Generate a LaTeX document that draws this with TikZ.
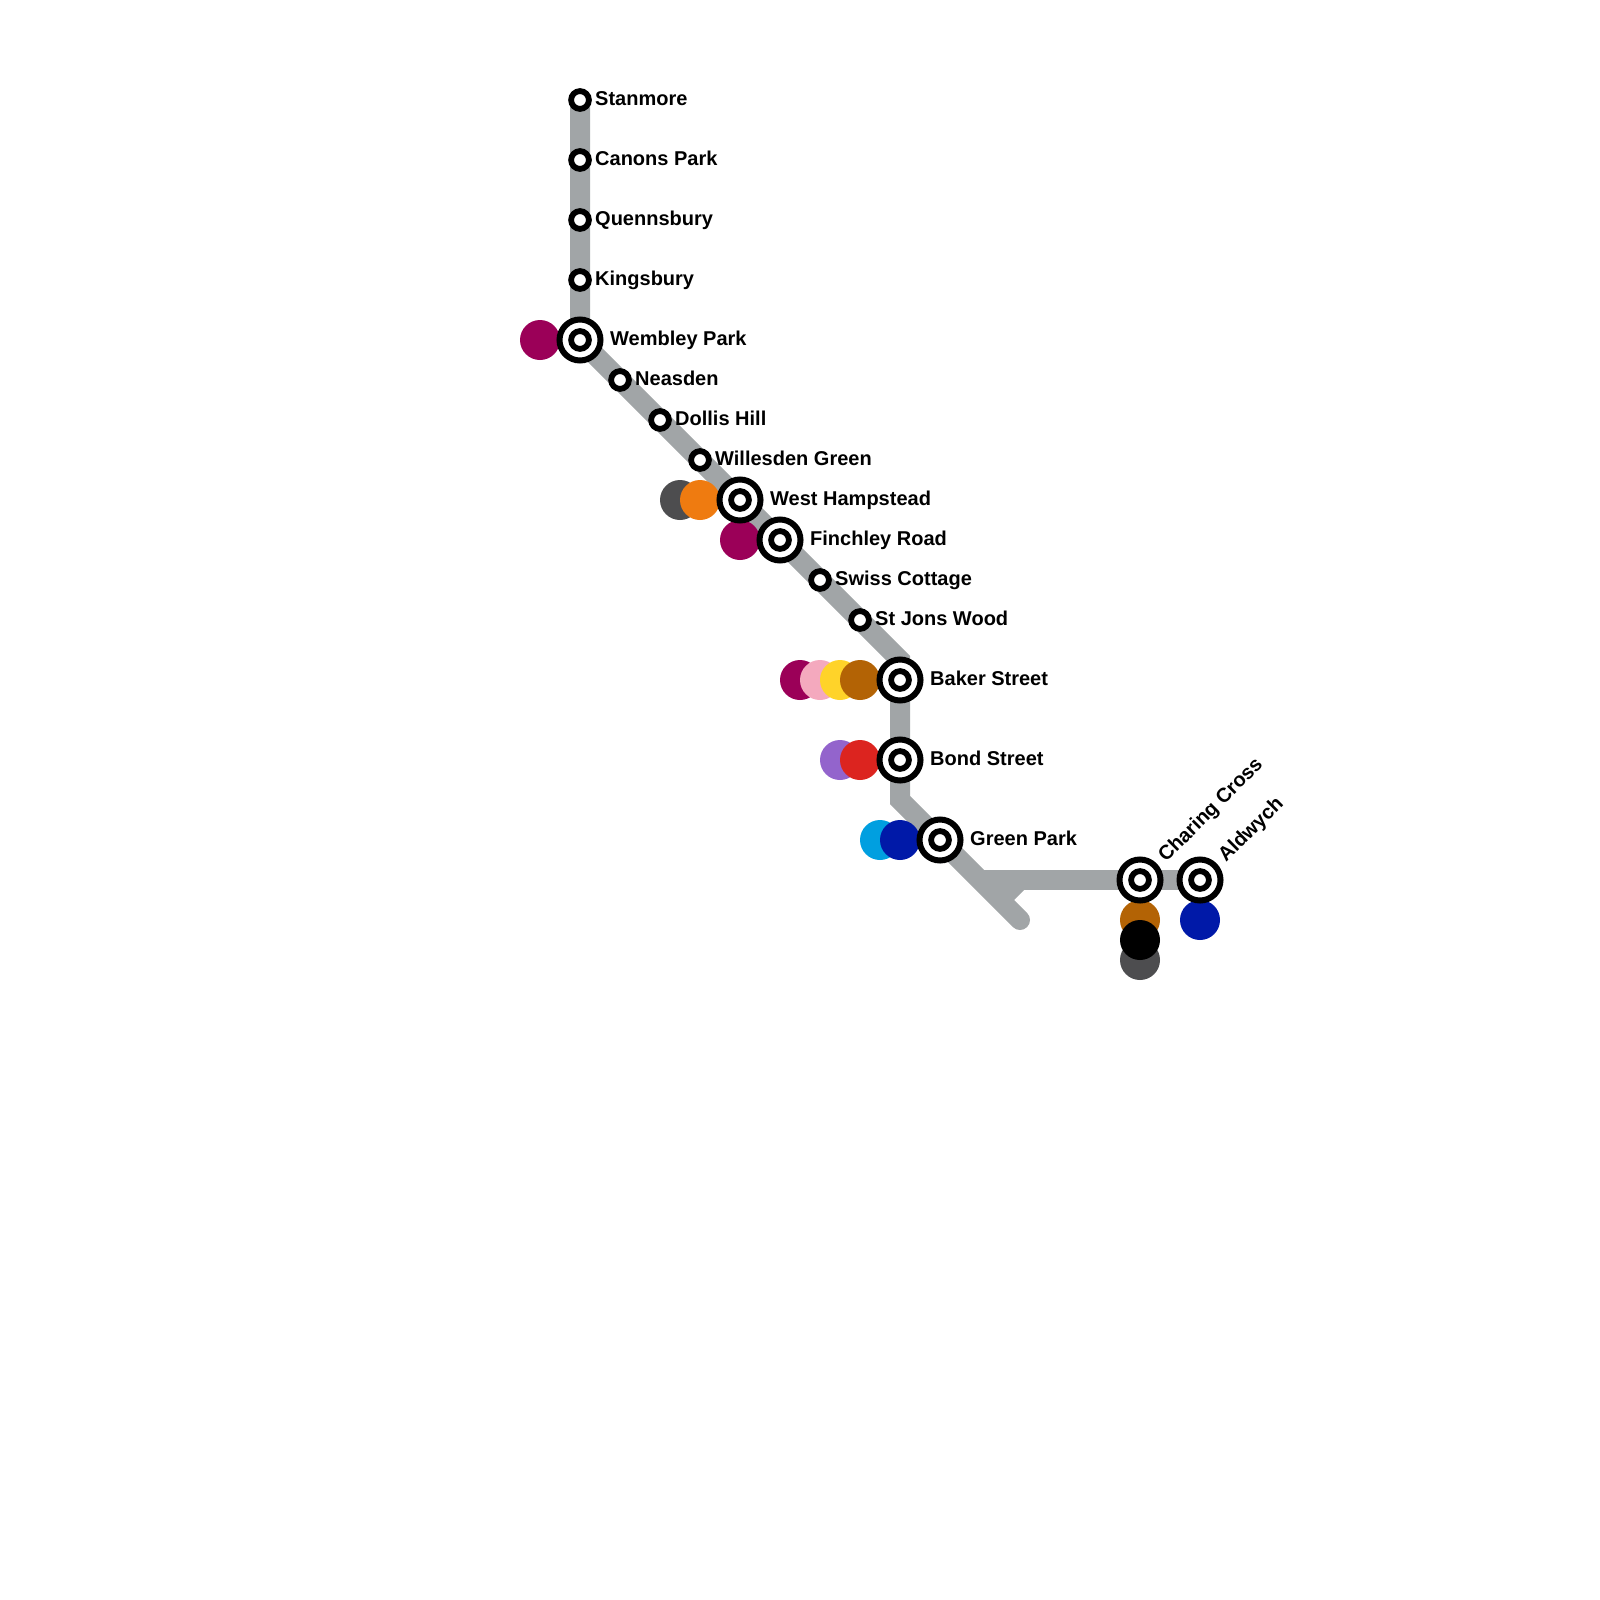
\documentclass[tikz,border=0pt]{standalone}
\usepackage{fontspec}
\setmainfont{Liberation Sans}
\usetikzlibrary{backgrounds}
\definecolor{linegray}{HTML}{A1A5A7}
\definecolor{cmagenta}{HTML}{9B0058}
\definecolor{cpink}{HTML}{F4A9BE}
\definecolor{cyellow}{HTML}{FFD329}
\definecolor{cbrown}{HTML}{B36305}
\definecolor{cpurple}{HTML}{9364CC}
\definecolor{cred}{HTML}{DC241F}
\definecolor{csky}{HTML}{009FE0}
\definecolor{cnavy}{HTML}{0019A8}
\definecolor{cdark}{HTML}{4D4D4F}
\definecolor{corange}{HTML}{EF7B10}
\tikzset{
  x=1pt,y=-1pt,
  trackline/.style={draw=linegray,line width=20pt,line join=miter,miter limit=10},
  stop/.style={circle,draw=black,fill=white,line width=5.8pt,minimum size=17.8pt,inner sep=0pt},
  hub/.style={circle,draw=black,fill=white,line width=6pt,minimum size=41pt,inner sep=0pt},
  dot/.style={circle,fill=#1,minimum size=40pt,inner sep=0pt,draw=none},
  lbl/.style={font=\fontsize{20}{22}\selectfont\bfseries,inner sep=0pt,text=black},
  lblw/.style={lbl,anchor=base west},
  lbld/.style={lbl,anchor=base west,rotate=45}
}
\begin{document}
\begin{tikzpicture}
\useasboundingbox (0,0) rectangle (1600,1600);
% interchange discs
\node[dot=cmagenta] (d1) at (540,340) {};
\node[dot=cdark] (d2) at (680,500) {};
\node[dot=corange] (d3) at (700,500) {};
\node[dot=cmagenta] (d4) at (740,540) {};
\node[dot=cmagenta] (d5) at (800,680) {};
\node[dot=cpink] (d6) at (820,680) {};
\node[dot=cyellow] (d7) at (840,680) {};
\node[dot=cbrown] (d8) at (860,680) {};
\node[dot=cpurple] (d9) at (840,760) {};
\node[dot=cred] (d10) at (860,760) {};
\node[dot=csky] (d11) at (880,840) {};
\node[dot=cnavy] (d12) at (900,840) {};
\node[dot=cbrown] (d13) at (1140,920) {};
\node[dot=cdark] (d14) at (1140,960) {};
\node[dot=black] (d15) at (1140,940) {};
\node[dot=cnavy] (d16) at (1200,920) {};
% stations
\node[stop] (stanmore) at (580,100) {};
\node[stop] (canons) at (580,160) {};
\node[stop] (queens) at (580,220) {};
\node[stop] (kings) at (580,280) {};
\node[hub] (wembley) at (580,340) {};
\node[stop] (wembleyc) at (580,340) {};
\node[stop] (neasden) at (620,380) {};
\node[stop] (dollis) at (660,420) {};
\node[stop] (willesden) at (700,460) {};
\node[hub] (westh) at (740,500) {};
\node[stop] (westhc) at (740,500) {};
\node[hub] (finchley) at (780,540) {};
\node[stop] (finchleyc) at (780,540) {};
\node[stop] (swiss) at (820,580) {};
\node[stop] (stjons) at (860,620) {};
\node[hub] (baker) at (900,680) {};
\node[stop] (bakerc) at (900,680) {};
\node[hub] (bond) at (900,760) {};
\node[stop] (bondc) at (900,760) {};
\node[hub] (green) at (940,840) {};
\node[stop] (greenc) at (940,840) {};
\node[hub] (charing) at (1140,880) {};
\node[stop] (charingc) at (1140,880) {};
\node[hub] (aldwych) at (1200,880) {};
\node[stop] (aldwychc) at (1200,880) {};
% labels
\node[lblw] (t1) at (595,105.2) {Stanmore};
\node[lblw] (t2) at (595,165.2) {Canons Park};
\node[lblw] (t3) at (595,225.2) {Quennsbury};
\node[lblw] (t4) at (595,285.2) {Kingsbury};
\node[lblw] (t5) at (610,345.2) {Wembley Park};
\node[lblw] (t6) at (635,385.2) {Neasden};
\node[lblw] (t7) at (675,425.2) {Dollis Hill};
\node[lblw] (t8) at (715,465.2) {Willesden Green};
\node[lblw] (t9) at (770,505.2) {West Hampstead};
\node[lblw] (t10) at (810,545.2) {Finchley Road};
\node[lblw] (t11) at (835,585.2) {Swiss Cottage};
\node[lblw] (t12) at (875,625.2) {St Jons Wood};
\node[lblw] (t13) at (930,685.2) {Baker Street};
\node[lblw] (t14) at (930,765.2) {Bond Street};
\node[lblw] (t15) at (970,845.2) {Green Park};
\node[lbld] (t16) at (1166,863) {Charing Cross};
\node[lbld] (t17) at (1226,863) {Aldwych};
% track
\coordinate (b1) at (900,660);
\coordinate (b2) at (900,800);
\coordinate (endm) at (1020,920);
\coordinate (b3) at (1020,880);
\coordinate (b4) at (1000,900);
\coordinate (b5) at (980,880);
\begin{pgfonlayer}{background}
\draw[trackline,line cap=round] (endm) -- (b2) -- (bond.center) -- (baker.center) -- (b1) -- (stjons.center) -- (swiss.center) -- (finchley.center) -- (westh.center) -- (willesden.center) -- (dollis.center) -- (neasden.center) -- (wembley.center) -- (kings.center) -- (queens.center) -- (canons.center) -- (stanmore.center);
\draw[trackline] (aldwych.center) -- (charing.center) -- (b5);
\draw[trackline] (b3) -- (b4);
\end{pgfonlayer}
\end{tikzpicture}
\end{document}
